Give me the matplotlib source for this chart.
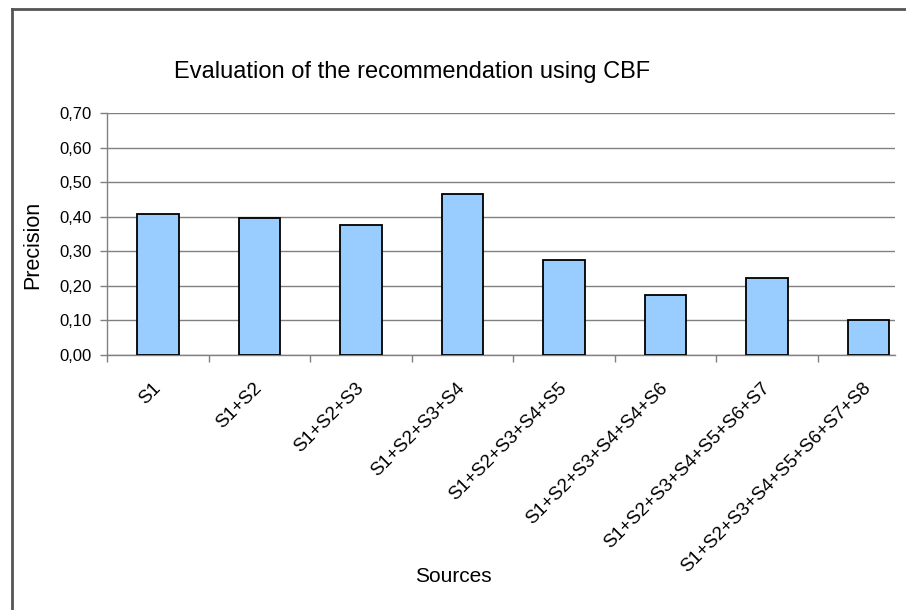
"""Bar chart: precision of CBF recommendation per source combination."""

import matplotlib
matplotlib.use("Agg")
import matplotlib.pyplot as plt
from matplotlib.lines import Line2D
from matplotlib.ticker import FixedLocator, FuncFormatter
import numpy as np

SOURCES = [
    "S1",
    "S1+S2",
    "S1+S2+S3",
    "S1+S2+S3+S4",
    "S1+S2+S3+S4+S5",
    "S1+S2+S3+S4+S4+S6",
    "S1+S2+S3+S4+S5+S6+S7",
    "S1+S2+S3+S4+S5+S6+S7+S8",
]
PRECISION = [0.409, 0.397, 0.377, 0.466, 0.274, 0.174, 0.223, 0.102]
Y_TICKS = [0.0, 0.1, 0.2, 0.3, 0.4, 0.5, 0.6, 0.7]

plt.rcParams["font.family"] = ["Liberation Sans", "DejaVu Sans"]
AXIS_GREY = "#808080"

fig = plt.figure(figsize=(9.06, 6.10), dpi=100)
ax = fig.add_axes([107 / 906, 1 - 355 / 610, (895 - 107) / 906, (355 - 113) / 610])

x = np.arange(len(SOURCES))
ax.bar(x, PRECISION, width=0.41, color="#99CCFF", edgecolor="black",
       linewidth=1.3, zorder=3)

# the plot area is cut short on the right: the last category is only
# partly inside the gridded area
ax.set_xlim(-0.5, 7.26)
ax.set_ylim(0, 0.7)

# y axis: comma decimals, outward ticks, grey gridlines
ax.yaxis.set_major_locator(FixedLocator(Y_TICKS))
ax.yaxis.set_major_formatter(FuncFormatter(lambda v, _: f"{v:.2f}".replace(".", ",")))
ax.tick_params(axis="y", direction="out", length=5, width=1, color=AXIS_GREY,
               labelsize=12, pad=6)
ax.grid(True, axis="y", color=AXIS_GREY, linewidth=1, zorder=0)

# x axis: ticks at category boundaries, labels at category centres
ax.xaxis.set_major_locator(FixedLocator(np.arange(len(SOURCES)) - 0.5))
ax.xaxis.set_major_formatter(FuncFormatter(lambda v, _: ""))
ax.xaxis.set_minor_locator(FixedLocator(x))
ax.set_xticklabels(SOURCES, minor=True, rotation=45, ha="right", va="center",
                   rotation_mode="anchor", fontsize=13.5)
ax.tick_params(axis="x", which="major", direction="out", length=5, width=1,
               color=AXIS_GREY)
ax.tick_params(axis="x", which="minor", length=0, pad=22)

for side in ("top", "right"):
    ax.spines[side].set_visible(False)
for side in ("left", "bottom"):
    ax.spines[side].set_color(AXIS_GREY)
    ax.spines[side].set_linewidth(1)

fig.text(412 / 906, 1 - 72 / 610, "Evaluation of the recommendation using CBF",
         ha="center", va="center", fontsize=17)
fig.text(33 / 906, 1 - 245 / 610, "Precision", rotation=90,
         ha="center", va="center", fontsize=15.5)
fig.text(453 / 906, 1 - 577 / 610, "Sources", ha="center", va="center",
         fontsize=15)

# frame of the chart area (only top and left edges are inside the picture)
left, top = 12 / 906, 1 - 9 / 610
fig.add_artist(Line2D([left, left], [0, top], color="#555555", linewidth=2))
fig.add_artist(Line2D([left, 1], [top, top], color="#555555", linewidth=2))

fig.savefig("out.png", dpi=100)
plt.close(fig)
